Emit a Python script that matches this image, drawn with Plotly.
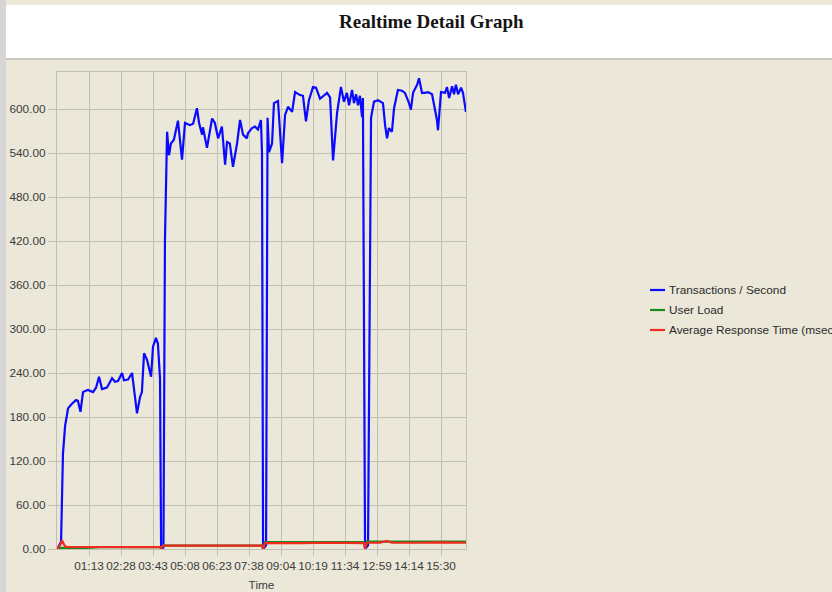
import plotly.graph_objects as go

# Sample index (5 s polling interval) and measured series
tps_sample = [0, 0.5, 1.9, 2.8, 3.8, 5.2, 7.0, 8.9, 9.8, 11.0, 12.2, 14.5, 16.9, 18.3, 19.7,
              21.1, 23.4, 25.8, 27.2, 28.6, 30.5, 31.4, 33.3, 35.2, 35.6, 37.5, 38.9, 39.8,
              40.8, 42.2, 44.1, 45.0, 46.4, 47.3, 48.3, 48.8, 49.9, 50.6, 51.6, 52.5, 53.4,
              54.8, 56.7, 58.6, 60.0, 62.3, 63.8, 65.6, 66.6, 68.0, 68.4, 70.3, 72.7, 74.0,
              75.5, 77.3, 78.8, 79.7, 81.0, 82.5, 84.4, 85.8, 87.2, 89.0, 89.5, 91.4, 92.8,
              94.2, 95.6, 96.1, 96.6, 98.0, 98.7, 99.4, 100.8, 101.7, 103.6, 105.5, 106.9,
              108.3, 110.2, 111.6, 113.9, 115.3, 116.7, 118.1, 120.0, 121.4, 123.3, 126.6,
              128.0, 129.4, 131.3, 133.1, 134.5, 135.9, 136.9, 138.3, 139.2, 140.2, 141.1,
              142.0, 143.0, 143.4, 144.4, 145.8, 147.2, 148.6, 150.5, 152.8, 153.8, 154.7,
              155.6, 157.0, 158.0, 159.8, 161.7, 163.1, 165.0, 165.9, 166.9, 168.8, 169.7,
              171.1, 172.5, 173.9, 175.8, 176.7, 178.1, 178.6, 180.0, 181.9, 182.8, 183.8,
              185.2, 186.1, 187.0, 188.0, 189.4, 190.3, 191.7]
tps = [0, 2, 10, 130, 168, 192, 198, 203, 202, 187, 214, 217, 214, 220, 235,
       218, 220, 233, 228, 229, 240, 230, 231, 240, 230, 185, 207, 214,
       267, 258, 235, 276, 288, 280, 232, 0, 2, 420, 569, 537, 553,
       558, 584, 531, 581, 578, 580, 601, 581, 565, 575, 547, 587, 581,
       560, 576, 524, 555, 553, 521, 553, 585, 565, 560, 567, 574, 576,
       572, 585, 540, 0, 5, 588, 541, 553, 608, 611, 526, 592,
       603, 596, 623, 619, 618, 583, 612, 630, 629, 614, 622,
       616, 530, 595, 630, 610, 622, 605, 626, 608, 620, 605,
       618, 589, 615, 0, 5, 588, 610, 612, 608, 578, 560,
       574, 569, 601, 626, 625, 622, 608, 599, 622, 633, 642,
       622, 622, 623, 620, 608, 585, 571, 623, 622, 630, 615,
       631, 620, 633, 620, 629, 622, 596]

load_sample = [0, 1.0, 14.0, 20.0, 48.3, 48.8, 49.8, 96.1, 96.6, 97.5, 144.0, 144.4, 145.3, 191.7]
user_load = [0, 1.5, 1.5, 2.5, 2.5, 1.0, 4.5, 4.5, 0.5, 9.5, 9.5, 1.0, 10.0, 10.0]

resp_sample = [0, 1.4, 2.3, 3.3, 4.2, 10.8, 20.0, 34.0, 48.3, 48.8, 49.7, 67.0, 96.1, 96.6,
               97.5, 114.0, 128.0, 144.0, 144.4, 145.3, 151.4, 154.7, 157.0, 170.0, 180.0, 191.7]
resp_time = [0, 5, 12, 6, 3, 3, 2.5, 2.5, 2.5, 0.5, 4.5, 4.5, 4.5, 0,
             8, 8, 8.5, 8, 0, 8.5, 8.5, 11, 8.5, 8.5, 9, 8.5]

# Axis labelling
x_tick_pos = [15, 30, 45, 60, 75, 90, 105, 120, 135, 150, 165, 180]
x_tick_text = ["01:13", "02:28", "03:43", "05:08", "06:23", "07:38",
               "09:04", "10:19", "11:34", "12:59", "14:14", "15:30"]
y_tick_vals = [0, 60, 120, 180, 240, 300, 360, 420, 480, 540, 600]

series_names = ["Transactions / Second", "User Load", "Average Response Time (msec)"]
series_colors = ["#0a0aff", "#1a8a1a", "#f02a1e"]

BEIGE = "#ebe7d9"
GRID = "#c2bfb5"
TEXT = "#3c3c3c"
FONT = "Liberation Sans"

fig = go.Figure()
fig.add_trace(go.Scatter(x=tps_sample, y=tps, mode="lines", name=series_names[0],
                         line=dict(color=series_colors[0], width=2.2), showlegend=False))
fig.add_trace(go.Scatter(x=load_sample, y=user_load, mode="lines", name=series_names[1],
                         line=dict(color=series_colors[1], width=2.2), showlegend=False))
fig.add_trace(go.Scatter(x=resp_sample, y=resp_time, mode="lines", name=series_names[2],
                         line=dict(color=series_colors[2], width=2.2), showlegend=False))

# plot area: x 57..466, y 72..549 px
L, R, T, B = 57, 832 - 466, 72, 592 - 549
PW, PH = 832 - L - R, 592 - T - B


def fx(px):
    return (px - L) / PW


def fy(py):
    return (592 - B - py) / PH


shapes = [
    # outer grey frame and white header band
    dict(type="rect", xref="paper", yref="paper", x0=fx(0), x1=fx(840), y0=fy(0), y1=fy(-5),
         line=dict(width=0), fillcolor="#d6d6d6"),
    dict(type="rect", xref="paper", yref="paper", x0=fx(0), x1=fx(6), y0=fy(600), y1=fy(0),
         line=dict(width=0), fillcolor="#d6d6d6"),
    dict(type="rect", xref="paper", yref="paper", x0=fx(6), x1=fx(840), y0=fy(58), y1=fy(5),
         line=dict(width=0), fillcolor="#ffffff"),
    dict(type="rect", xref="paper", yref="paper", x0=fx(6), x1=fx(840), y0=fy(60), y1=fy(58),
         line=dict(width=0), fillcolor="#cbc9c2"),
]

annotations = [
    dict(text="<b>Realtime Detail Graph</b>", xref="paper", yref="paper",
         x=fx(431), y=fy(21), xanchor="center", yanchor="middle", showarrow=False,
         font=dict(family="Liberation Serif", size=19, color="#151515")),
]

# legend block to the right of the plot
for i, (name, color) in enumerate(zip(series_names, series_colors)):
    py = 290 + 20 * i
    shapes.append(dict(type="line", xref="paper", yref="paper", x0=fx(650), x1=fx(665),
                       y0=fy(py), y1=fy(py), line=dict(color=color, width=2.2)))
    annotations.append(dict(text=name, xref="paper", yref="paper", x=fx(667), y=fy(py),
                            xanchor="left", yanchor="middle", showarrow=False,
                            font=dict(family=FONT, size=11.8, color="#2a2a2a")))

fig.update_layout(
    width=832, height=592,
    margin=dict(l=L, r=R, t=T, b=B, pad=0, autoexpand=False),
    paper_bgcolor=BEIGE, plot_bgcolor=BEIGE,
    font=dict(family=FONT, size=11, color=TEXT),
    shapes=shapes, annotations=annotations,
    xaxis=dict(range=[0, PW / (32 / 15)], tickmode="array", tickvals=x_tick_pos,
               ticktext=x_tick_text, showgrid=True, gridcolor=GRID, gridwidth=1.2,
               zeroline=False, showline=True, linecolor=GRID, linewidth=1.2, mirror=True,
               ticks="outside", ticklen=6, tickcolor=GRID, tickwidth=1.2, automargin=False,
               tickfont=dict(family=FONT, size=11.8, color=TEXT),
               title=dict(text="Time", standoff=8,
                          font=dict(family=FONT, size=11.8, color=TEXT))),
    yaxis=dict(range=[0, PH / (44 / 60)], tickmode="array", tickvals=y_tick_vals,
               tickformat=".2f", showgrid=True, gridcolor=GRID, gridwidth=1.2,
               zeroline=False, showline=True, linecolor=GRID, linewidth=1.2, mirror=True,
               ticks="outside", ticklen=8, tickcolor=GRID, tickwidth=1.2, automargin=False,
               tickfont=dict(family=FONT, size=11.8, color=TEXT)),
)

fig.write_html("out.html")
